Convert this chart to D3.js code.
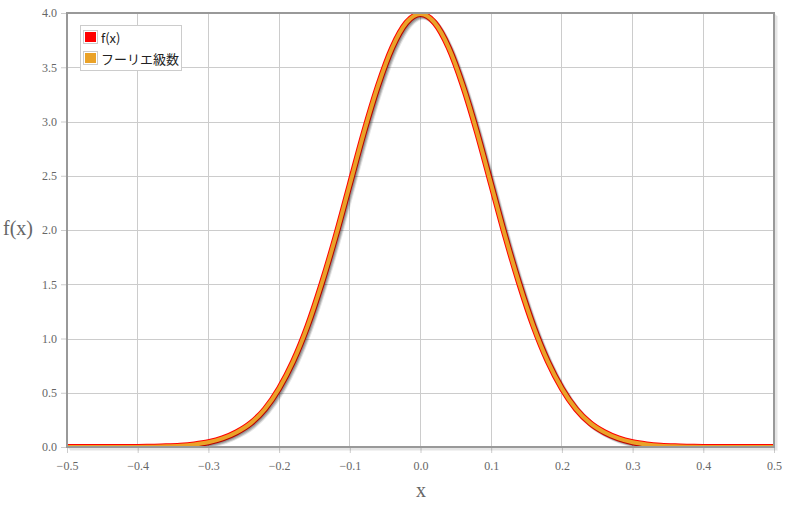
<!DOCTYPE html>
<html><head><meta charset="utf-8">
<script src="https://cdn.jsdelivr.net/npm/d3@7"></script>
<style>
body{margin:0;background:#fff;}
svg{display:block;}
</style></head>
<body>
<svg id="chart" width="788" height="506"></svg>
<script>
const xValues = [-0.5,-0.48,-0.46,-0.44,-0.42,-0.4,-0.38,-0.36,-0.34,-0.32,-0.3,-0.28,-0.26,-0.24,-0.22,-0.2,-0.18,-0.16,-0.14,-0.12,-0.1,-0.08,-0.06,-0.04,-0.02,0,0.02,0.04,0.06,0.08,0.1,0.12,0.14,0.16,0.18,0.2,0.22,0.24,0.26,0.28,0.3,0.32,0.34,0.36,0.38,0.4,0.42,0.44,0.46,0.48,0.5];
const fxValues = [0,0,0,0,0,0.001,0.003,0.006,0.012,0.024,0.044,0.079,0.136,0.22,0.35,0.54,0.79,1.11,1.50,1.94,2.42,2.90,3.33,3.68,3.91,3.99,3.91,3.68,3.33,2.90,2.42,1.94,1.50,1.11,0.79,0.54,0.35,0.22,0.136,0.079,0.044,0.024,0.012,0.006,0.003,0.001,0,0,0,0,0];
const fourierValues = [0,0,0,0,0,0.001,0.003,0.006,0.012,0.024,0.044,0.079,0.136,0.22,0.35,0.54,0.79,1.11,1.50,1.94,2.42,2.90,3.33,3.68,3.91,3.99,3.91,3.68,3.33,2.90,2.42,1.94,1.50,1.11,0.79,0.54,0.35,0.22,0.136,0.079,0.044,0.024,0.012,0.006,0.003,0.001,0,0,0,0,0];
const xTicks = [-0.5,-0.4,-0.3,-0.2,-0.1,0.0,0.1,0.2,0.3,0.4,0.5];
const yTicks = [0.0,0.5,1.0,1.5,2.0,2.5,3.0,3.5,4.0];
const seriesNames = ["f(x)","フーリエ級数"];
const seriesColors = ["#ff0000","#eaa228"];

const svg = d3.select("#chart");
const L=67,R=774,T=13,B=447;
const x = d3.scaleLinear().domain([-0.5,0.5]).range([L,R]);
const y = d3.scaleLinear().domain([0,4]).range([B,T]);

// grid
const g = svg.append("g");
g.selectAll(".vg").data(xTicks).join("line")
 .attr("x1",d=>x(d)).attr("x2",d=>x(d)).attr("y1",T).attr("y2",B)
 .attr("stroke","#cccccc").attr("stroke-width",1).attr("shape-rendering","crispEdges");
g.selectAll(".hg").data(yTicks).join("line")
 .attr("y1",d=>Math.round(y(d))+0.5).attr("y2",d=>Math.round(y(d))+0.5).attr("x1",L).attr("x2",R)
 .attr("stroke","#cccccc").attr("stroke-width",1);

// axes
const xAxis = d3.axisBottom(x).tickValues(xTicks).tickFormat(d3.format(".1f")).tickSize(5).tickPadding(6);
const yAxis = d3.axisLeft(y).tickValues(yTicks).tickFormat(d3.format(".1f")).tickSize(5).tickPadding(4);
const xa = svg.append("g").attr("transform",`translate(0,${B+1})`).call(xAxis);
const ya = svg.append("g").attr("transform",`translate(${L-1},0)`).call(yAxis);
[xa,ya].forEach(a=>{
  a.select(".domain").remove();
  a.selectAll(".tick line").attr("stroke","#cccccc");
  a.selectAll(".tick text").attr("fill","#666666").style("font-family","'Liberation Serif','Times New Roman',serif").style("font-size","12px");
});
xa.selectAll(".tick text").attr("dy","0.9em");

// border shadow
for(let i=1;i<=3;i++){
  svg.append("path").attr("d",`M${R+i},${T+i}L${R+i},${B+i}L${L+i},${B+i}`)
   .attr("fill","none").attr("stroke","rgba(0,0,0,0.07)").attr("stroke-width",1.5);
}

// lines
svg.append("clipPath").attr("id","clip").append("rect").attr("x",L).attr("y",T).attr("width",R-L).attr("height",B-T);
const lg = svg.append("g").attr("clip-path","url(#clip)");
const line = d3.line().x((d,i)=>x(xValues[i])).y(d=>y(d)).curve(d3.curveMonotoneX);
const seriesData=[fxValues,fourierValues];
const widths=[6,4];
seriesData.forEach((vals,si)=>{
  for(let k=3;k>=1;k--){
    lg.append("path").attr("d",line(vals)).attr("fill","none")
      .attr("stroke","rgba(0,0,0,0.1)").attr("stroke-width",widths[si])
      .attr("transform",`translate(${k*0.9},${k*0.9})`);
  }
  lg.append("path").attr("d",line(vals)).attr("fill","none")
    .attr("stroke",seriesColors[si]).attr("stroke-width",widths[si]).attr("stroke-linejoin","round");
});

// border
svg.append("rect").attr("x",L).attr("y",T).attr("width",R-L).attr("height",B-T)
 .attr("fill","none").attr("stroke","#999999").attr("stroke-width",2);

// axis labels
svg.append("text").attr("x",18).attr("y",228).attr("text-anchor","middle").attr("dominant-baseline","central")
 .attr("fill","#666666").style("font-family","'Liberation Serif','Times New Roman',serif").style("font-size","20px").text("f(x)");
svg.append("text").attr("x",421).attr("y",490).attr("text-anchor","middle").attr("dominant-baseline","central")
 .attr("fill","#666666").style("font-family","'Liberation Serif','Times New Roman',serif").style("font-size","20px").text("x");

// legend
const leg = svg.append("g");
leg.append("rect").attr("x",80.5).attr("y",25.5).attr("width",101).attr("height",45)
 .attr("fill","#ffffff").attr("stroke","#cccccc").attr("stroke-width",1);
seriesNames.forEach((n,i)=>{
  const cy = 37 + i*21;
  leg.append("rect").attr("x",83.5).attr("y",cy-6.5).attr("width",14).attr("height",13)
    .attr("fill","none").attr("stroke","#cccccc");
  leg.append("rect").attr("x",85).attr("y",cy-5).attr("width",11).attr("height",10).attr("fill",seriesColors[i]);
  leg.append("text").attr("x",101).attr("y",cy).attr("dominant-baseline","central")
    .attr("fill","#222").style("font-family","'Noto Sans CJK JP','Noto Sans',sans-serif").style("font-size","13px").text(n);
});
</script>
</body></html>
